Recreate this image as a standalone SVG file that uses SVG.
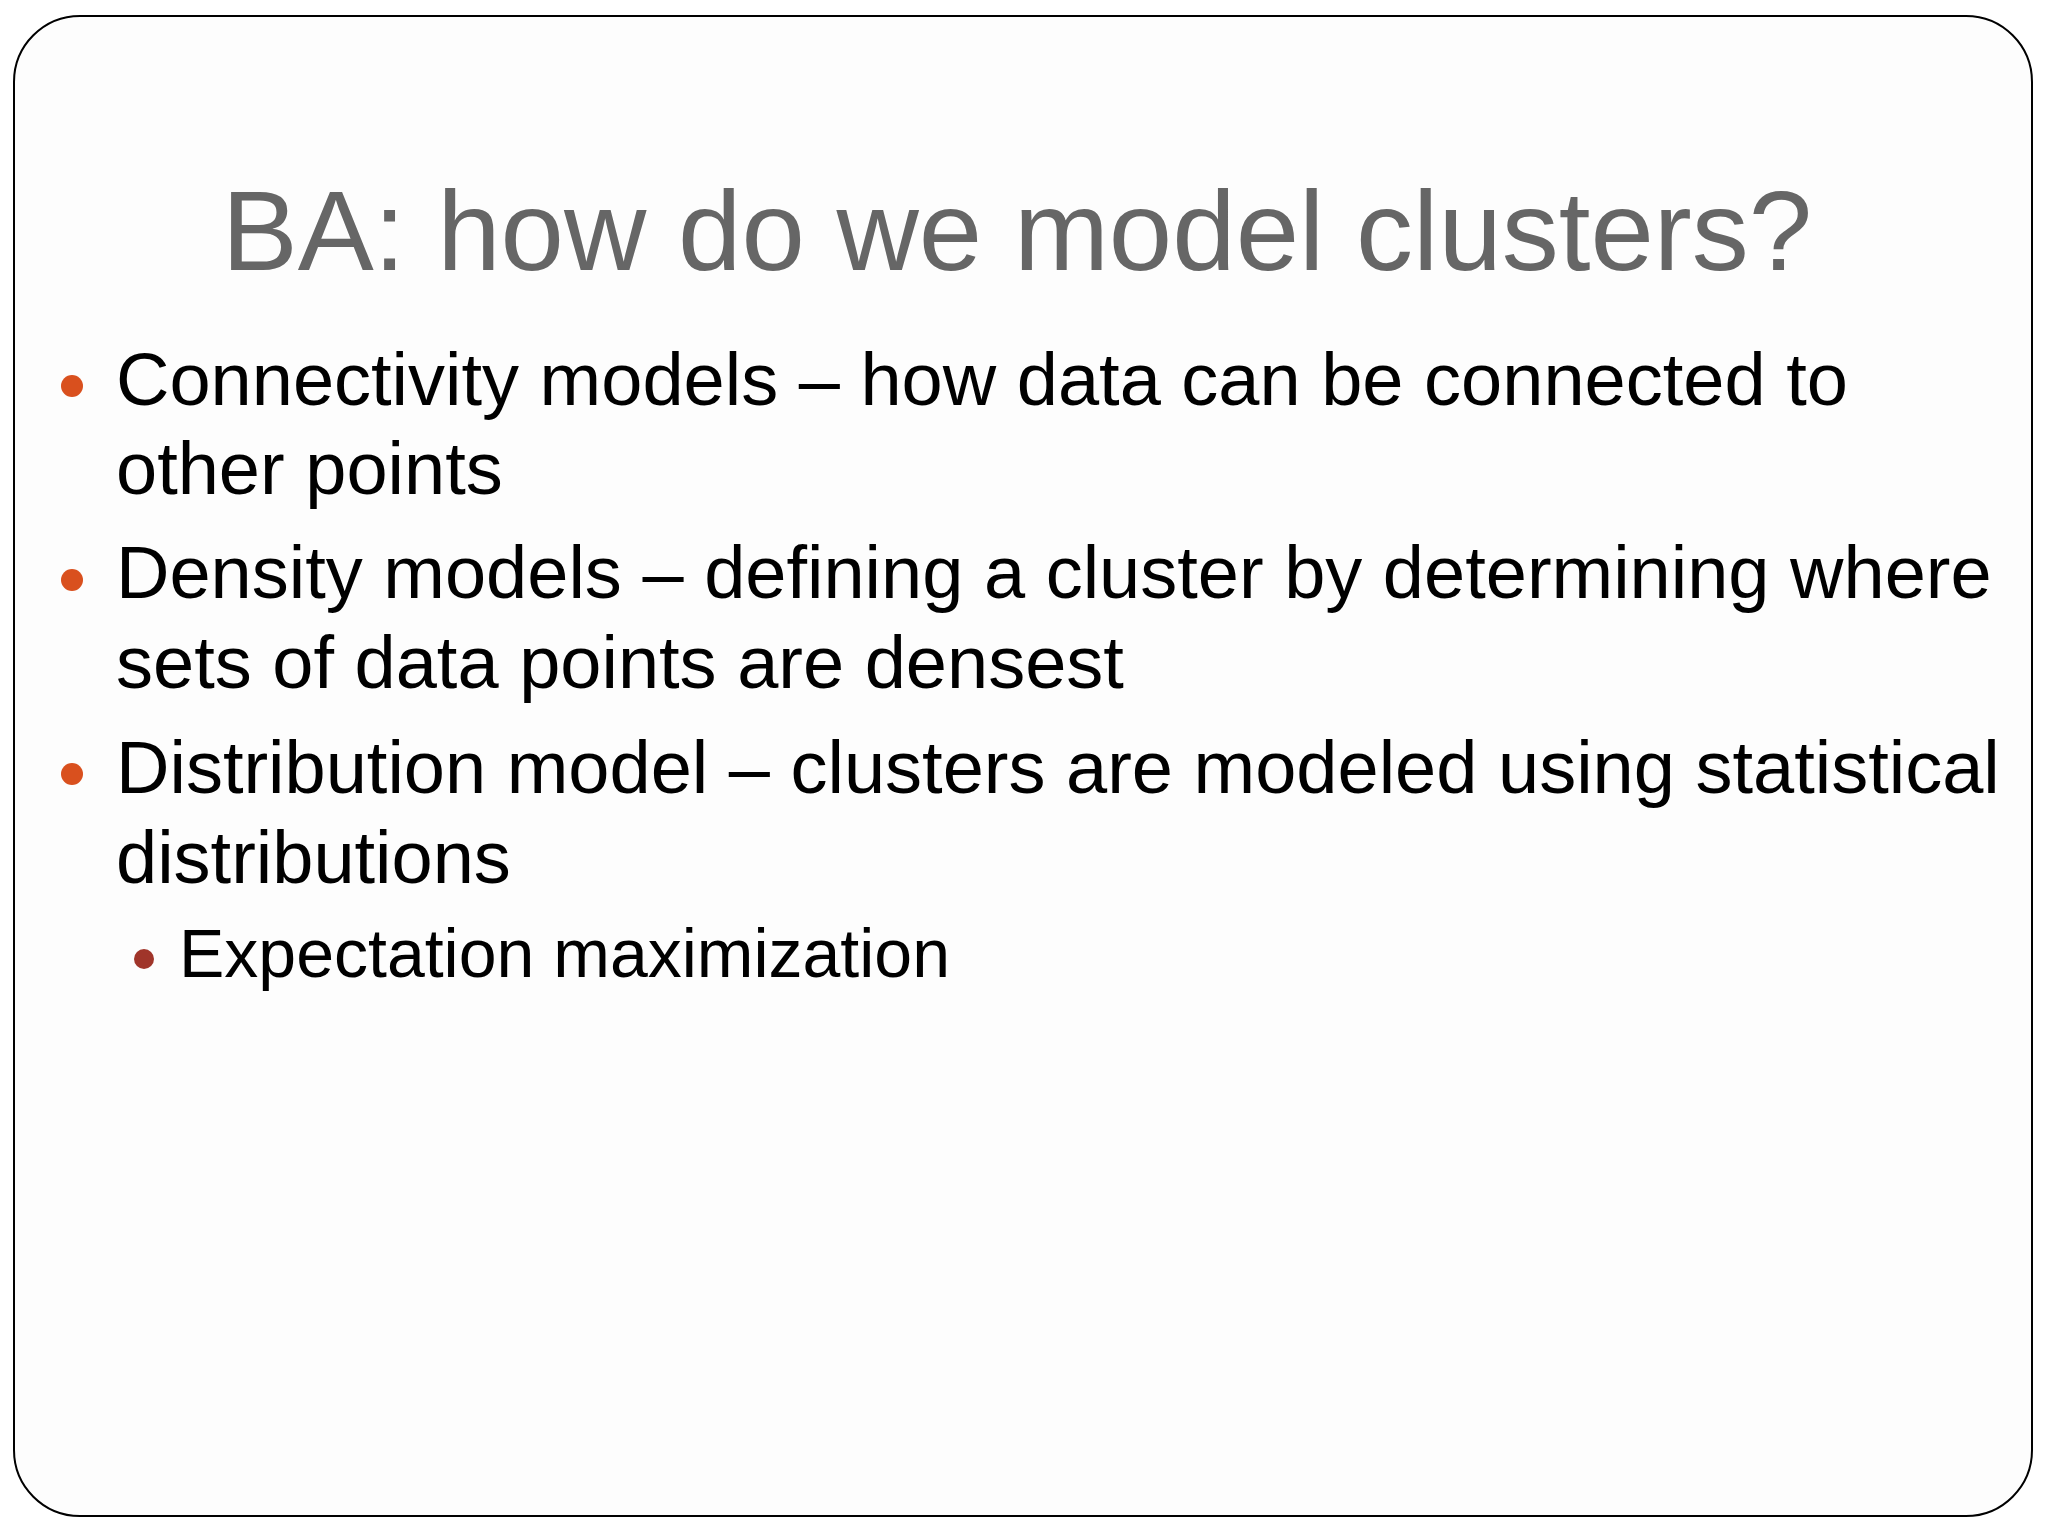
<svg xmlns="http://www.w3.org/2000/svg" width="2048" height="1536" viewBox="0 0 2048 1536">
<style>
.t{font-family:"Liberation Sans",Arial,sans-serif;fill:#000;font-size:74px}
.s{font-family:"Liberation Sans",Arial,sans-serif;fill:#000;font-size:68px}
.b{fill:#d9501e}
</style>
<rect width="2048" height="1536" fill="#fff"/>
<rect x="14" y="16" width="2018" height="1500" rx="66" fill="#fdfdfd" stroke="#000" stroke-width="2"/>
<g id="title"><text x="1017" y="270" text-anchor="middle" font-family="Liberation Sans,Arial,sans-serif" font-size="114" fill="#666">BA: how do we model clusters?</text></g>
<g id="b1"><circle class="b" cx="72" cy="386" r="11"/>
<text class="t" x="116" y="405">Connectivity models – how data can be connected to</text>
<text class="t" x="116" y="494">other points</text></g>
<g id="b2"><circle class="b" cx="72" cy="580" r="11"/>
<text class="t" x="116" y="598">Density models – defining a cluster by determining where</text>
<text class="t" x="116" y="688">sets of data points are densest</text></g>
<g id="b3"><circle class="b" cx="72" cy="774" r="11"/>
<text class="t" x="116" y="793">Distribution model – clusters are modeled using statistical</text>
<text class="t" x="116" y="883">distributions</text></g>
<g id="b4"><circle cx="144" cy="959" r="10" fill="#a0352a"/>
<text class="s" x="179" y="977">Expectation maximization</text></g>
</svg>
